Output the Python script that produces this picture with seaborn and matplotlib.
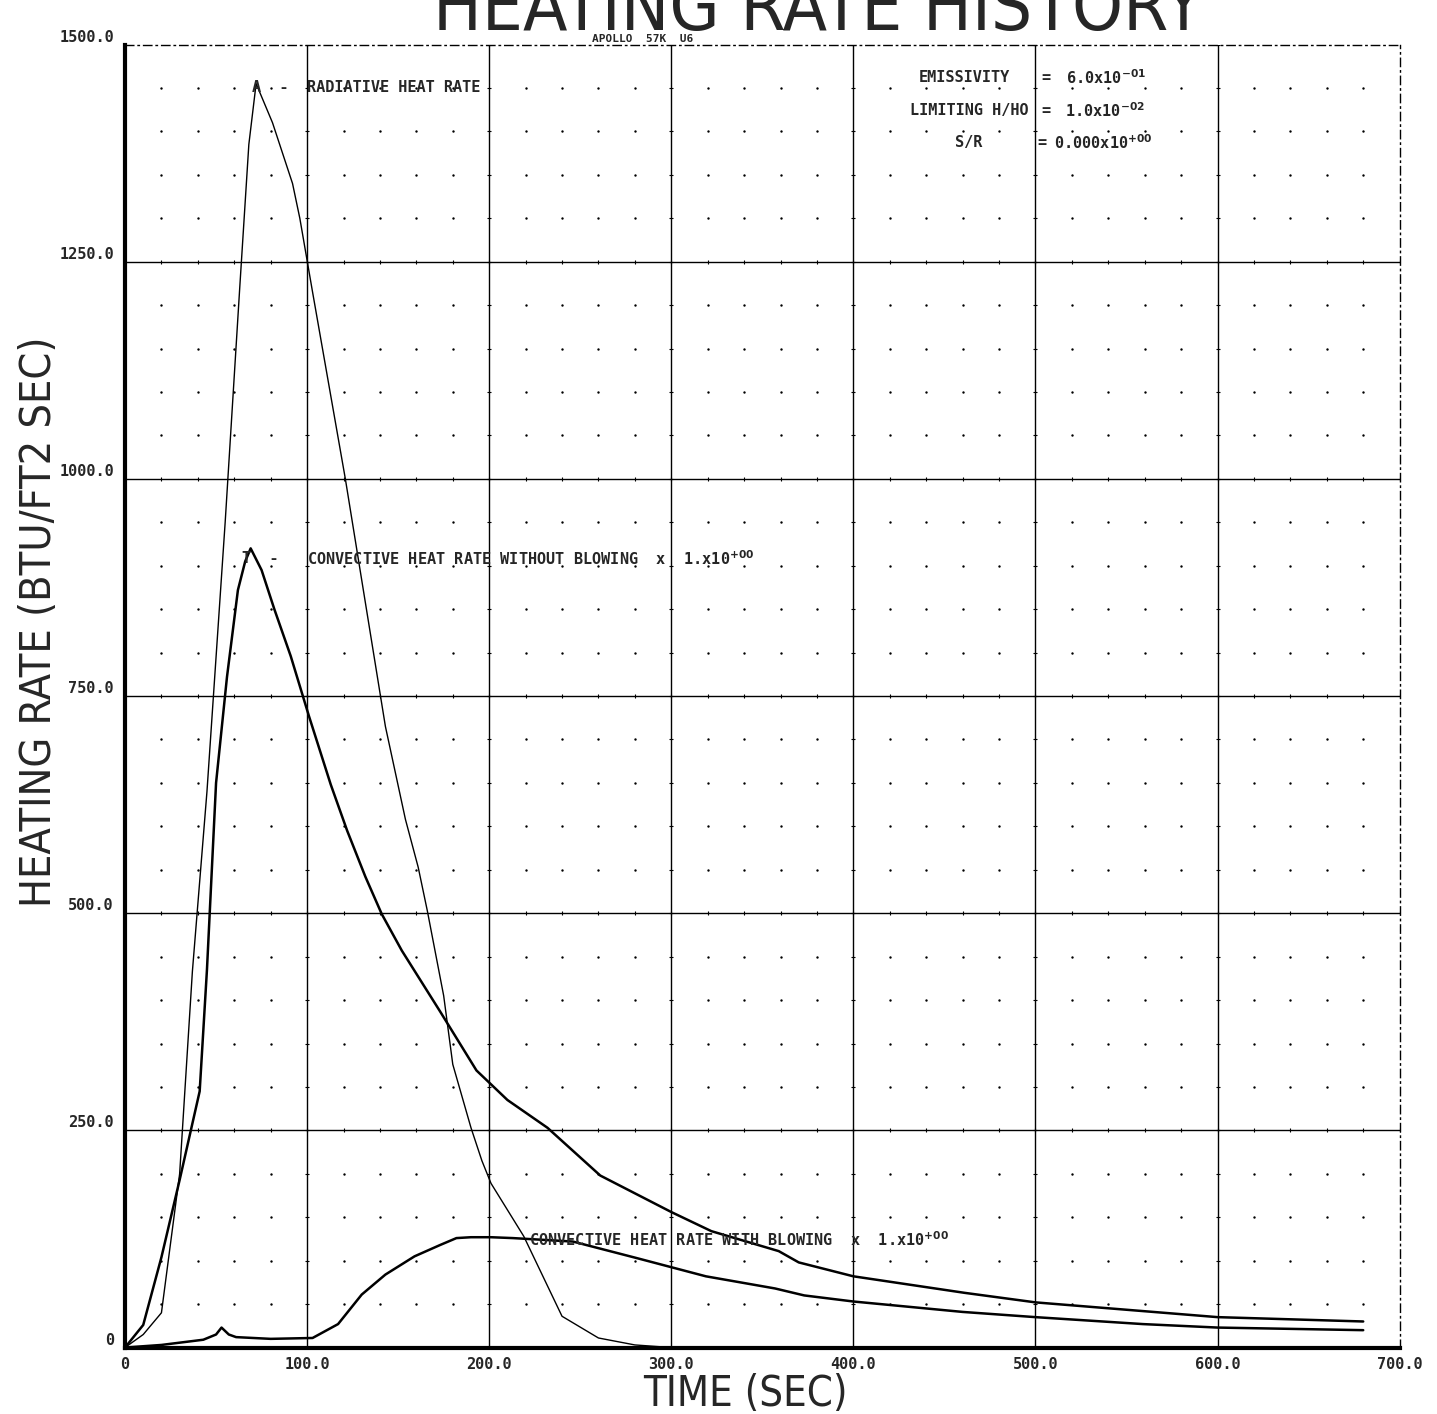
import numpy as np
import pandas as pd
import seaborn as sns
import matplotlib.pyplot as plt

# radiative heat rate (btu/ft2 sec) vs time (sec)
rad_t = [0, 10, 20, 30, 37, 45, 55, 63, 68, 72, 81, 92, 96, 103, 121, 143, 154,
         161, 166, 175, 180, 190, 196, 201, 219, 240, 260, 280, 300]
rad_q = [0, 15, 40, 200, 433, 640, 950, 1220, 1385, 1455, 1410, 1340, 1300, 1215,
         1000, 715, 608, 553, 503, 405, 326, 253, 215, 189, 128, 36, 11, 3, 0]

# convective heat rate without blowing
cnv_t = [0, 10, 20, 30, 41, 45, 50, 56, 62, 66, 69, 75, 82, 91, 101, 113, 122,
         132, 141, 152, 173, 193, 210, 232, 261, 300, 322, 359, 370, 400, 461,
         500, 600, 680]
cnv_q = [0, 26, 104, 193, 295, 435, 650, 772, 872, 905, 920, 895, 850, 796, 727,
         648, 595, 542, 499, 457, 387, 319, 285, 253, 198, 156, 134, 111, 98, 82,
         63, 52, 35, 30]

# convective heat rate with blowing
blw_t = [0, 20, 43, 50, 53, 57, 61, 80, 103, 117, 130, 143, 159, 173, 182, 190,
         201, 213, 246, 281, 319, 357, 373, 400, 460, 500, 559, 600, 680]
blw_q = [0, 3, 9, 15, 23, 15, 12, 10, 11, 27, 61, 84, 105, 118, 126, 127, 127,
         126, 122, 103, 82, 68, 60, 53, 41, 35, 27, 23, 20]

x_ticks = [0, 100, 200, 300, 400, 500, 600, 700]
x_labels = ['0', '100.0', '200.0', '300.0', '400.0', '500.0', '600.0', '700.0']
y_ticks = [0, 250, 500, 750, 1000, 1250, 1500]
y_labels = ['0', '250.0', '500.0', '750.0', '1000.0', '1250.0', '1500.0']

sns.set_style('white')
plt.rcParams['font.family'] = ['DejaVu Sans']
plot_font = ['DejaVu Sans Mono', 'DejaVu Sans']

fig = plt.figure(figsize=(14.37, 14.14), dpi=100)
ax = fig.add_axes([0.087, 0.047, 0.887, 0.9215])

# dotted minor grid, major grid lines with small ticks
mx, my = np.meshgrid(np.arange(0, 701, 20), np.arange(0, 1501, 50))
keep = (mx % 100 != 0) & (my % 250 != 0)
ax.scatter(mx[keep], my[keep], s=3, color='black', lw=0, zorder=1)
for xv in x_ticks[1:-1]:
    ax.axvline(xv, color='black', lw=1.0, zorder=1)
    ax.scatter([xv] * 31, np.arange(0, 1501, 50), marker='_', s=12, color='black', lw=0.8)
for yv in y_ticks[1:-1]:
    ax.axhline(yv, color='black', lw=1.0, zorder=1)
    ax.scatter(np.arange(0, 701, 20), [yv] * 36, marker='|', s=12, color='black', lw=0.8)

rad = pd.DataFrame({'t': rad_t, 'q': rad_q})
cnv = pd.DataFrame({'t': cnv_t, 'q': cnv_q})
blw = pd.DataFrame({'t': blw_t, 'q': blw_q})
sns.lineplot(data=rad, x='t', y='q', estimator=None, sort=False, color='black', lw=1.0, ax=ax)
sns.lineplot(data=cnv, x='t', y='q', estimator=None, sort=False, color='black', lw=1.8, ax=ax)
sns.lineplot(data=blw, x='t', y='q', estimator=None, sort=False, color='black', lw=1.8, ax=ax)

ax.set_xlim(0, 700)
ax.set_ylim(0, 1500)
ax.set_xlabel('')
ax.set_ylabel('')
ax.set_xticks(x_ticks, x_labels)
ax.set_yticks(y_ticks, y_labels)
ax.tick_params(length=0)
for lab in ax.get_xticklabels():
    lab.set(family=plot_font, weight='bold', size=11)
ax.tick_params(axis='x', pad=7)
for lab in ax.get_yticklabels():
    lab.set(family=plot_font, weight='bold', size=11, va='bottom')
ax.tick_params(axis='y', pad=8)

for side in ['left', 'bottom']:
    ax.spines[side].set(lw=3, color='black')
for side in ['top', 'right']:
    ax.spines[side].set(lw=1.0, color='black', linestyle=(0, (6, 3, 1, 3)))

txt = dict(family=plot_font, weight='bold', size=11, va='center')
ax.text(70, 1450, 'A  -', **txt)
ax.text(100, 1450, 'RADIATIVE HEAT RATE', **txt)
ax.text(436, 1462, 'EMISSIVITY', **txt)
ax.text(503, 1462, '=', **txt)
ax.text(517, 1462, r'6.0x10$^{\mathbf{-01}}$', **txt)
ax.text(431, 1424, 'LIMITING H/HO', **txt)
ax.text(503, 1424, '=', **txt)
ax.text(516, 1424, r'1.0x10$^{\mathbf{-02}}$', **txt)
ax.text(456, 1387, 'S/R', **txt)
ax.text(501, 1387, '=', **txt)
ax.text(510, 1387, r'0.000x10$^{\mathbf{+00}}$', **txt)
ax.text(64, 908, 'T  -', **txt)
ax.text(100, 908, r'CONVECTIVE HEAT RATE WITHOUT BLOWING  x  1.x10$^{\mathbf{+00}}$', **txt)
ax.text(222, 124, r'CONVECTIVE HEAT RATE WITH BLOWING  x  1.x10$^{\mathbf{+00}}$', **txt)

fig.text(0.569, 0.979, 'HEATING RATE HISTORY', size=52, weight='light',
         stretch='condensed', ha='center', va='baseline')
fig.text(0.447, 0.9705, 'APOLLO  57K  U6', family=plot_font, weight='bold', size=8,
         ha='center', va='baseline')
fig.text(0.519, 0.006, 'TIME (SEC)', size=30, weight='light', stretch='condensed',
         ha='center', va='baseline')
fig.text(0.027, 0.56, 'HEATING RATE (BTU/FT2 SEC)', size=31, weight='light',
         stretch='condensed', rotation=90, ha='center', va='center')

fig.savefig('out.png', dpi=100, facecolor='white')
